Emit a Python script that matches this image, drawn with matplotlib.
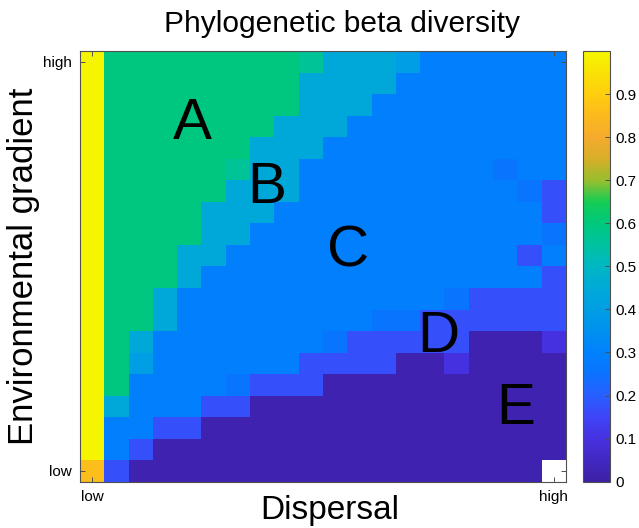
import numpy as np
import matplotlib
matplotlib.use("Agg")
import matplotlib.pyplot as plt
from matplotlib.colors import LinearSegmentedColormap

plt.rcParams['font.family'] = ['Liberation Sans', 'DejaVu Sans']

# Beta-diversity level of each cell code
levels = {
    'Y': 1.00,   # yellow
    'O': 0.86,   # orange
    'G': 0.595,  # green
    'g': 0.56,   # green, slightly lower
    'T': 0.44,   # teal
    't': 0.40,   # teal, slightly lower
    'B': 0.29,   # blue
    'b': 0.255,  # blue, slightly lower
    'P': 0.17,   # violet-blue
    'I': 0.10,   # indigo
    'D': 0.02,   # dark purple
    'N': np.nan, # no value
}

# Rows run from high (top) to low (bottom) environmental gradient,
# columns from low (left) to high (right) dispersal.
grid_rows = [
    "YGGGGGGGGgTTTtBBBBBB",
    "YGGGGGGGGTTTTBBBBBBB",
    "YGGGGGGGGTTTBBBBBBBB",
    "YGGGGGGGTTTBBBBBBBBB",
    "YGGGGGGTTTBBBBBBBBBB",
    "YGGGGGgTTBBBBBBBBbBB",
    "YGGGGGTTTBBBBBBBBBbP",
    "YGGGGTTTBBBBBBBBBBBP",
    "YGGGGTTBBBBBBBBBBBBb",
    "YGGGTTBBBBBBBBBBBBPB",
    "YGGGTBBBBBBBBBBBBBBP",
    "YGGTBBBBBBBBBBBbPPPP",
    "YGGTBBBBBBBBbbPPPPPP",
    "YGTBBBBBBBbPPPPPDDDI",
    "YGtBBBBBBPPPPDDIDDDD",
    "YGBBBBbPPPDDDDDDDDDD",
    "YTBBBPPDDDDDDDDDDDDD",
    "YBBPPDDDDDDDDDDDDDDD",
    "YBPDDDDDDDDDDDDDDDDD",
    "OPDDDDDDDDDDDDDDDDDN",
]

region_labels = ['A', 'B', 'C', 'D', 'E']
x_ticklabels = ['low', 'high']
y_ticklabels = ['high', 'low']
cbar_ticks = [0, 0.1, 0.2, 0.3, 0.4, 0.5, 0.6, 0.7, 0.8, 0.9]
cbar_ticklabels = ['0', '0.1', '0.2', '0.3', '0.4', '0.5', '0.6', '0.7', '0.8', '0.9']

# Parula-like colour ramp
ramp_pos = [0.00, 0.05, 0.10, 0.15, 0.20, 0.25, 0.30, 0.35, 0.40, 0.45, 0.50,
            0.55, 0.60, 0.65, 0.70, 0.75, 0.80, 0.85, 0.90, 0.95, 1.00]
ramp_rgb = [(62, 32, 165), (66, 40, 195), (70, 50, 225), (62, 70, 248),
            (40, 95, 255), (10, 115, 255), (0, 130, 252), (0, 145, 240),
            (0, 158, 228), (0, 170, 215), (0, 183, 195), (0, 194, 160),
            (0, 200, 125), (20, 205, 85), (150, 190, 45), (215, 175, 40),
            (245, 170, 45), (252, 185, 30), (255, 205, 15), (250, 225, 5),
            (245, 245, 0)]
cmap = LinearSegmentedColormap.from_list(
    'parula_like', list(zip(ramp_pos, [tuple(c / 255 for c in rgb) for rgb in ramp_rgb])), N=256)
cmap.set_bad('white')

values = np.array([[levels[ch] for ch in row] for row in grid_rows], dtype=float)
n_rows, n_cols = values.shape

fig = plt.figure(figsize=(6.39, 5.28), dpi=100)
ax = fig.add_axes([80 / 639, 1 - 481.7 / 528, 486 / 639, 430.7 / 528])
cax = fig.add_axes([582.7 / 639, 1 - 481.7 / 528, 27.3 / 639, 430.7 / 528])

im = ax.imshow(np.ma.masked_invalid(values), cmap=cmap, vmin=0, vmax=1.0,
               aspect='auto', interpolation='nearest', origin='upper')

frame_col = '#505050'
for sp in ax.spines.values():
    sp.set_color(frame_col)
    sp.set_linewidth(0.8)

ax.set_xticks([0, n_cols - 1])
ax.set_xticklabels(x_ticklabels)
ax.set_yticks([0, n_rows - 1])
ax.set_yticklabels(y_ticklabels)
ax.tick_params(direction='in', length=3.5, width=0.7, color=frame_col,
               labelsize=11, pad=6, top=True, right=True)

# Region letters (baseline positions in cell units)
letter_pos = [(4.13, 3.58), (7.2, 6.55), (10.53, 9.5), (14.23, 13.47), (17.44, 16.81)]
for lab, (lx, ly) in zip(region_labels, letter_pos):
    ax.text(lx, ly, lab, fontsize=42, ha='center', va='baseline', color='black')

cb = fig.colorbar(im, cax=cax)
cb.set_ticks(cbar_ticks)
cb.set_ticklabels(cbar_ticklabels)
cb.outline.set_edgecolor(frame_col)
cb.outline.set_linewidth(0.8)
cax.tick_params(direction='in', length=3.5, width=0.7, color=frame_col,
                labelsize=11, pad=4)

fig.text(342 / 639, 1 - 32 / 528, 'Phylogenetic beta diversity',
         fontsize=21.5, ha='center', va='baseline')
fig.text(330 / 639, 1 - 519 / 528, 'Dispersal', fontsize=24,
         ha='center', va='baseline')
fig.text(24 / 639, 1 - 266.4 / 528, 'Environmental gradient', fontsize=25,
         rotation=90, ha='center', va='center')

fig.savefig('out.png', dpi=100, facecolor='white')
